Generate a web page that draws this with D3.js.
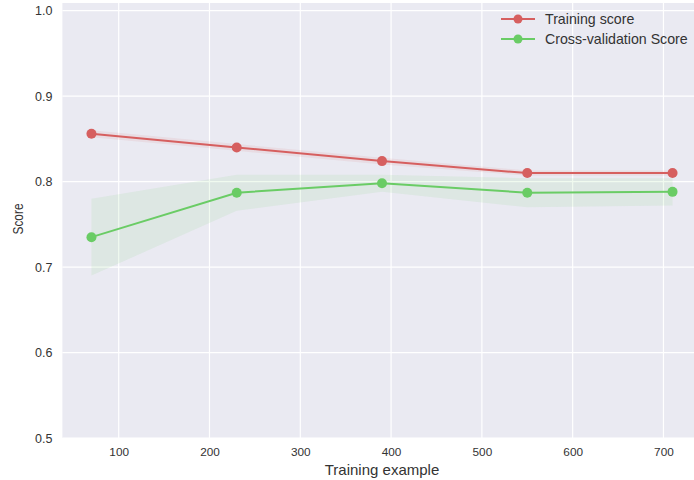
<!DOCTYPE html>
<html>
<head>
<meta charset="utf-8">
<script src="https://cdn.jsdelivr.net/npm/d3@7"></script>
<style>
  body { margin: 0; background: #fff; }
  svg { display: block; font-family: "Liberation Sans", Arial, sans-serif; }
</style>
</head>
<body>
<script>
// training sizes and scores
var trainSizes = [70, 230, 390, 550, 710];
var trainMean = [0.856, 0.840, 0.824, 0.810, 0.810];
var trainStd = [0.004, 0.004, 0.004, 0.003, 0.003];
var cvMean = [0.735, 0.787, 0.798, 0.787, 0.788];
var cvStd = [0.045, 0.021, 0.010, 0.017, 0.016];
var xTicks = [100, 200, 300, 400, 500, 600, 700];
var yTicks = [0.5, 0.6, 0.7, 0.8, 0.9, 1.0];
var seriesNames = ["Training score", "Cross-validation Score"];
var seriesColors = ["#d65f5f", "#6acc65"];

var width = 694, height = 480;
var svg = d3.select("body").append("svg")
  .attr("width", width)
  .attr("height", height);

var x = d3.scaleLinear().domain([38, 742]).range([62.4, 701.6]);
var y = d3.scaleLinear().domain([0.5, 1.009]).range([438, 3]);

// bakgrund
svg.append("rect")
  .attr("x", x(38)).attr("y", y(1.009))
  .attr("width", x(742) - x(38))
  .attr("height", y(0.5) - y(1.009))
  .attr("fill", "#eaeaf2");

// rutnät
svg.append("g").selectAll("line").data(xTicks).enter().append("line")
  .attr("x1", function(d) { return x(d); })
  .attr("x2", function(d) { return x(d); })
  .attr("y1", y(0.5)).attr("y2", y(1.009))
  .attr("stroke", "#fff").attr("stroke-width", 1.2);

svg.append("g").selectAll("line").data(yTicks).enter().append("line")
  .attr("x1", x(38)).attr("x2", x(742))
  .attr("y1", function(d) { return y(d); })
  .attr("y2", function(d) { return y(d); })
  .attr("stroke", "#fff").attr("stroke-width", 1.2);

// axlar
var xAxis = svg.append("g")
  .attr("transform", "translate(0," + y(0.5) + ")")
  .call(d3.axisBottom(x).tickValues(xTicks).tickSize(0).tickPadding(10).tickFormat(d3.format("d")));
var yAxis = svg.append("g")
  .attr("transform", "translate(" + x(38) + ",0)")
  .call(d3.axisLeft(y).tickValues(yTicks).tickSize(0).tickPadding(10).tickFormat(d3.format(".1f")));
[xAxis, yAxis].forEach(function(a) {
  a.select(".domain").remove();
  a.selectAll("text").attr("font-size", 11.8).attr("fill", "#333")
    .attr("font-family", "Liberation Sans, Arial, sans-serif");
});
yAxis.selectAll("text").attr("font-size", 12.5);

svg.append("text")
  .attr("x", 382).attr("y", 475)
  .attr("text-anchor", "middle")
  .attr("font-size", 15).attr("fill", "#333")
  .text("Training example");

svg.append("text")
  .attr("transform", "translate(23," + 219 + ") rotate(-90) scale(0.82,1)")
  .attr("text-anchor", "middle")
  .attr("font-size", 14.5).attr("fill", "#333")
  .text("Score");

var series = [
  { mean: trainMean, std: trainStd, color: seriesColors[0] },
  { mean: cvMean, std: cvStd, color: seriesColors[1] }
];

var area = d3.area()
  .x(function(d) { return x(d.s); })
  .y0(function(d) { return y(d.m - d.sd); })
  .y1(function(d) { return y(d.m + d.sd); });

var line = d3.line()
  .x(function(d) { return x(d.s); })
  .y(function(d) { return y(d.m); });

series.forEach(function(ser) {
  var pts = trainSizes.map(function(s, i) { return { s: s, m: ser.mean[i], sd: ser.std[i] }; });
  svg.append("path").datum(pts)
    .attr("d", area)
    .attr("fill", ser.color).attr("fill-opacity", 0.1);
});

series.forEach(function(ser) {
  var pts = trainSizes.map(function(s, i) { return { s: s, m: ser.mean[i] }; });
  svg.append("path").datum(pts)
    .attr("d", line)
    .attr("fill", "none")
    .attr("stroke", ser.color).attr("stroke-width", 2);
  svg.append("g").selectAll("circle").data(pts).enter().append("circle")
    .attr("cx", function(d) { return x(d.s); })
    .attr("cy", function(d) { return y(d.m); })
    .attr("r", 5)
    .attr("fill", ser.color);
});

// legend
var legend = svg.append("g").selectAll("g").data(seriesNames).enter().append("g")
  .attr("transform", function(d, i) { return "translate(501," + (19 + i * 20) + ")"; });
legend.append("line")
  .attr("x1", 0).attr("x2", 34).attr("y1", 0).attr("y2", 0)
  .attr("stroke", function(d, i) { return seriesColors[i]; })
  .attr("stroke-width", 2);
legend.append("circle")
  .attr("cx", 17).attr("cy", 0).attr("r", 4.5)
  .attr("fill", function(d, i) { return seriesColors[i]; });
legend.append("text")
  .attr("x", 44).attr("y", 5)
  .attr("font-size", 14.2).attr("fill", "#333")
  .text(function(d) { return d; });
</script>
</body>
</html>
